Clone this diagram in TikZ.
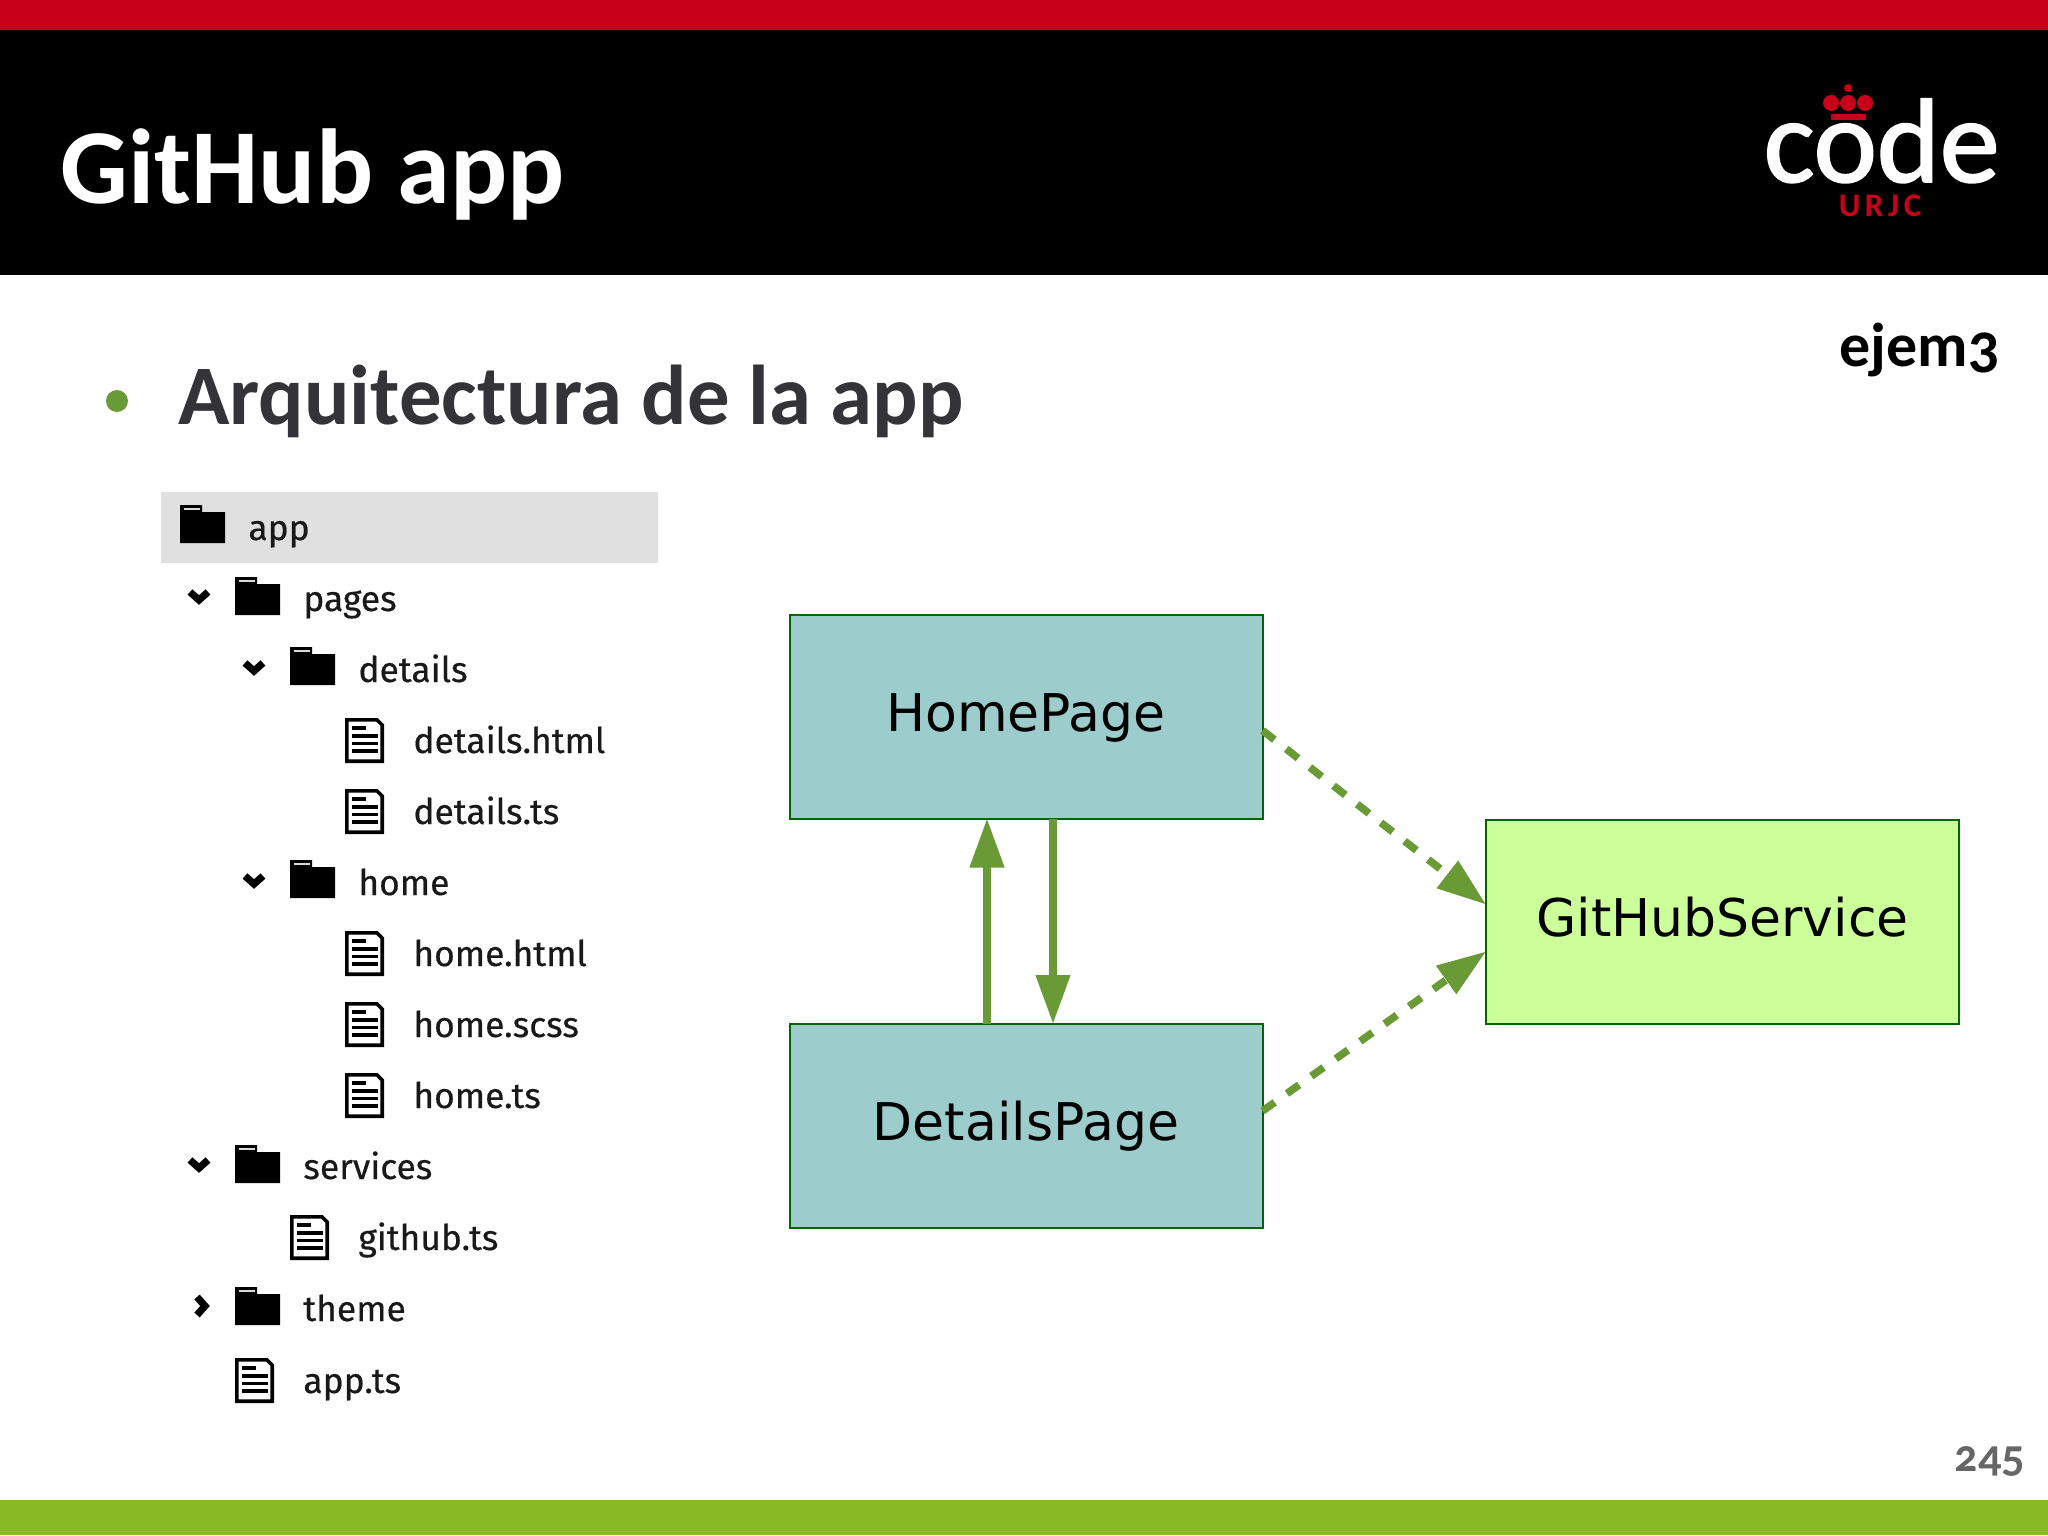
\documentclass[tikz,border=0pt]{standalone}
\usepackage{fontspec}
\usepackage{tikz}
\usetikzlibrary{arrows.meta}
\setmainfont{Carlito}
\newfontfamily\treefont{Fira Sans}[FakeBold=0.4]
\newfontfamily\boxfont{DejaVu Sans}
\newfontfamily\oldfont{Carlito}[Numbers=OldStyle]
\newfontfamily\logofont{Carlito}[FakeBold=1.5]
\definecolor{urjcred}{HTML}{C8001A}
\definecolor{bandgreen}{HTML}{8AB926}
\definecolor{arrowgreen}{HTML}{6A9A35}
\definecolor{pageblue}{HTML}{9CCCCC}
\definecolor{servicegreen}{HTML}{CCFF99}
\definecolor{boxline}{HTML}{006600}
\definecolor{headtext}{HTML}{333338}
\tikzset{
  treelabel/.style={anchor=base west,inner sep=0pt,text=black!90,font=\treefont\fontsize{17.7}{20}\selectfont},
  pagebox/.style={draw=boxline,line width=1pt,fill=pageblue,minimum width=236.5pt,minimum height=102pt,inner sep=0pt,outer sep=0pt,text height=20.5pt,text depth=6pt,font=\boxfont\fontsize{26}{30}\selectfont},
  servicebox/.style={pagebox,fill=servicegreen},
  callarrow/.style={draw=arrowgreen,line width=3.8pt,-{Triangle[length=24.5pt,width=16.5pt]}},
  usearrow/.style={callarrow,dash pattern=on 7.5pt off 7.5pt},
  foldericon/.pic={
    \fill[black] (0,7) -- (0,0) -- (22,0) -- (22,7) -- (45,7) -- (45,38) -- (0,38) -- cycle;
    \fill[white!85!black] (4,3) rectangle (20,5);
  },
  fileicon/.pic={
    \draw[black,line width=1.8pt,fill=white] (1.8,1.8) -- (32,1.8) -- (37.2,7) -- (37.2,43.2) -- (1.8,43.2) -- cycle;
    \draw[black,line width=1.6pt] (7,10) -- (21,10) (7,18) -- (33,18) (7,25.5) -- (33,25.5) (7,33) -- (33,33);
  },
  opentip/.pic={\draw[black,line width=3.6pt] (-9,-4) -- (0,4) -- (9,-4);},
  closedtip/.pic={\draw[black,line width=3.6pt] (-4,-9) -- (4,0) -- (-4,9);}
}

\begin{document}
\begin{tikzpicture}[x=0.5pt,y=-0.5pt]
  \useasboundingbox (0,0) rectangle (2048,1535);

  \fill[white] (0,0) rectangle (2048,1535);
  \fill[black] (0,30) rectangle (2048,275);
  \fill[urjcred] (0,0) rectangle (2048,30);
  \fill[bandgreen] (0,1500) rectangle (2048,1535);
  \fill[arrowgreen] (117,401) circle (11);

  \node[anchor=base west,inner sep=0pt,text=white,font=\bfseries\fontsize{53.3}{60}\selectfont] (title) at (60,204) {GitHub app};
  \node[anchor=base west,inner sep=0pt,text=headtext,font=\bfseries\fontsize{42.4}{48}\selectfont] (heading) at (178,424) {Arquitectura de la app};
  \node[anchor=base east,inner sep=0pt,font=\oldfont\bfseries\fontsize{31}{36}\selectfont] (example) at (2000,366) {ejem3};
  \node[anchor=base east,inner sep=0pt,text=black!60,font=\oldfont\bfseries\fontsize{23}{26}\selectfont] (pagenum) at (2025,1471) {245};

  % logo
  \node[anchor=base east,inner sep=0pt,text=white,font=\logofont\fontsize{60}{66}\selectfont] (code) at (2000,182) {code};
  \node[anchor=base,inner sep=0pt,text=urjcred,font=\addfontfeature{LetterSpace=14}\bfseries\fontsize{16.5}{18}\selectfont] (urjc) at (1880,217) {URJC};
  \fill[urjcred] (1831,103) circle (8) (1848,103) circle (8) (1865,103) circle (8) (1848,88) circle (4);
  \fill[urjcred] (1831,114) rectangle (1866,120);

  % tree
  \fill[black!12] (161,492) rectangle (658,563);
  \pic at (180,505) {foldericon};
  \node[treelabel] (app) at (248,540) {app};
  \pic at (199,596) {opentip};
  \pic at (235,577) {foldericon};
  \node[treelabel] (pages) at (303,611) {pages};
  \pic at (254,667) {opentip};
  \pic at (290,647) {foldericon};
  \node[treelabel] (detailsdir) at (358,682) {details};
  \pic at (345,718) {fileicon};
  \node[treelabel] (detailshtml) at (413,753) {details.html};
  \pic at (345,789) {fileicon};
  \node[treelabel] (detailsts) at (413,824) {details.ts};
  \pic at (254,880) {opentip};
  \pic at (290,860) {foldericon};
  \node[treelabel] (homedir) at (358,895) {home};
  \pic at (345,931) {fileicon};
  \node[treelabel] (homehtml) at (413,966) {home.html};
  \pic at (345,1002) {fileicon};
  \node[treelabel] (homescss) at (413,1037) {home.scss};
  \pic at (345,1073) {fileicon};
  \node[treelabel] (homets) at (413,1108) {home.ts};
  \pic at (199,1164) {opentip};
  \pic at (235,1145) {foldericon};
  \node[treelabel] (services) at (303,1179) {services};
  \pic at (290,1215) {fileicon};
  \node[treelabel] (githubts) at (358,1250) {github.ts};
  \pic at (201,1306) {closedtip};
  \pic at (235,1287) {foldericon};
  \node[treelabel] (theme) at (303,1321) {theme};
  \pic at (235,1358) {fileicon};
  \node[treelabel] (appts) at (303,1393) {app.ts};

  % boxes
  \node[pagebox]    (homepage)    at (1026,716.5) {HomePage};
  \node[pagebox]    (detailspage) at (1026,1126)  {DetailsPage};
  \node[servicebox] (github)      at (1722.5,921.5) {GitHubService};

  \draw[callarrow] ([xshift=-19.5pt]detailspage.north) -- ([xshift=-19.5pt]homepage.south);
  \draw[callarrow] ([xshift=13.5pt]homepage.south) -- ([xshift=13.5pt]detailspage.north);
  \draw[usearrow] ([yshift=-7pt]homepage.east) -- ([yshift=8.5pt]github.west);
  \draw[usearrow] ([yshift=7.5pt]detailspage.east) -- ([yshift=-15pt]github.west);
\end{tikzpicture}
\end{document}
